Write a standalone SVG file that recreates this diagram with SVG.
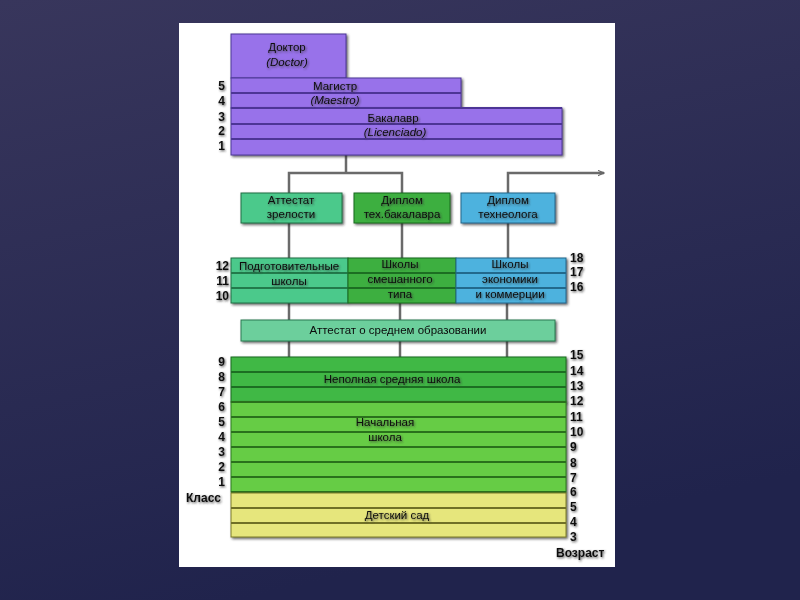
<svg xmlns="http://www.w3.org/2000/svg" width="800" height="600" viewBox="0 0 800 600">
<defs>
<linearGradient id="bg" x1="0" y1="0" x2="0.3" y2="1">
<stop offset="0" stop-color="#38365c"/>
<stop offset="1" stop-color="#20234c"/>
</linearGradient>
<filter id="sh" x="-5%" y="-10%" width="115%" height="130%">
<feDropShadow dx="1.5" dy="1.5" stdDeviation="1" flood-color="#222" flood-opacity="0.7"/>
</filter>
<filter id="tsh" x="-10%" y="-30%" width="130%" height="180%">
<feDropShadow dx="1" dy="1.2" stdDeviation="0.9" flood-color="#333" flood-opacity="0.8"/>
</filter>
<marker id="arr" viewBox="0 0 10 10" refX="9" refY="5" markerWidth="7" markerHeight="7" orient="auto" markerUnits="userSpaceOnUse">
<path d="M0,1 L9,5 L0,9" fill="none" stroke="#666" stroke-width="1.5"/>
</marker>
</defs>
<style>
.t{font-family:"Liberation Sans",Arial,sans-serif;font-size:11.5px;fill:#0a0a0a;text-anchor:middle;filter:url(#tsh)}
.i{font-style:italic}
.n{font-family:"Liberation Sans",Arial,sans-serif;font-size:12px;font-weight:bold;fill:#111;filter:url(#tsh)}
.nl{text-anchor:end}
.nr{text-anchor:start}
.pu{fill:#9872ea;stroke:#4d3696;stroke-width:1}
.pl{stroke:#4d3696;stroke-width:2}
.mint{fill:#4cc98b;stroke:#1f6e44;stroke-width:1}
.mintl{stroke:#237a4c;stroke-width:2}
.gr{fill:#3daf3f;stroke:#1d6a1f;stroke-width:1}
.grl{stroke:#1f6e21;stroke-width:2}
.bl{fill:#4db2de;stroke:#22678a;stroke-width:1}
.bll{stroke:#24698c;stroke-width:2}
.lg{fill:#66cc44;stroke:#2e7a1e;stroke-width:1}
.lgl{stroke:#2b6f1c;stroke-width:2}
.ye{fill:#e6e67c;stroke:#7a7a2a;stroke-width:1}
.yel{stroke:#707028;stroke-width:2}
.c{stroke:#6a6a6a;stroke-width:2.5;fill:none}
</style>
<rect width="800" height="600" fill="url(#bg)"/>
<rect x="179" y="23" width="436" height="544" fill="#ffffff"/>

<g id="connectors">
<path class="c" d="M346,155 V173"/>
<path class="c" d="M289,193 V173 H402 V193"/>
<path class="c" d="M508,193 V173 H604" marker-end="url(#arr)"/>
<path class="c" d="M289,223 V258"/>
<path class="c" d="M402,223 V258"/>
<path class="c" d="M508,223 V258"/>
<path class="c" d="M289,303 V320"/>
<path class="c" d="M400,303 V320"/>
<path class="c" d="M507,303 V320"/>
<path class="c" d="M289,341 V357"/>
<path class="c" d="M400,341 V357"/>
<path class="c" d="M507,341 V357"/>
</g>

<g id="doctor" filter="url(#sh)">
<rect class="pu" x="231" y="34" width="115" height="44"/>
</g>
<g id="magistr" filter="url(#sh)">
<rect class="pu" x="231" y="78" width="230" height="30"/>
<line class="pl" x1="231" y1="93" x2="461" y2="93"/>
</g>
<g id="bakalavr" filter="url(#sh)">
<rect class="pu" x="231" y="108" width="331" height="47"/>
<line class="pl" x1="231" y1="108" x2="562" y2="108"/>
<line class="pl" x1="231" y1="124" x2="562" y2="124"/>
<line class="pl" x1="231" y1="139" x2="562" y2="139"/>
</g>
<g id="purple-text">
<text class="t" x="287" y="51">Доктор</text>
<text class="t i" x="287" y="66">(Doctor)</text>
<text class="t" x="335" y="90">Магистр</text>
<text class="t i" x="335" y="104">(Maestro)</text>
<text class="t" x="393" y="122">Бакалавр</text>
<text class="t i" x="395" y="136">(Licenciado)</text>
<text class="n nl" x="225" y="90">5</text>
<text class="n nl" x="225" y="105">4</text>
<text class="n nl" x="225" y="121">3</text>
<text class="n nl" x="225" y="135">2</text>
<text class="n nl" x="225" y="150">1</text>
</g>

<g id="attestat-zrelosti" filter="url(#sh)">
<rect class="mint" x="241" y="193" width="101" height="30"/>
</g>
<g id="diplom-bakalavra" filter="url(#sh)">
<rect class="gr" x="354" y="193" width="96" height="30"/>
</g>
<g id="diplom-tekhneologa" filter="url(#sh)">
<rect class="bl" x="461" y="193" width="94" height="30"/>
</g>
<g id="diplom-text">
<text class="t" x="291" y="204">Аттестат</text>
<text class="t" x="291" y="218">зрелости</text>
<text class="t" x="402" y="204">Диплом</text>
<text class="t" x="402" y="218">тех.бакалавра</text>
<text class="t" x="508" y="204">Диплом</text>
<text class="t" x="508" y="218">технеолога</text>
</g>

<g id="schools" filter="url(#sh)">
<rect class="mint" x="231" y="258" width="117" height="45"/>
<line class="mintl" x1="231" y1="273" x2="348" y2="273"/>
<line class="mintl" x1="231" y1="288" x2="348" y2="288"/>
<rect class="gr" x="348" y="258" width="108" height="45"/>
<line class="grl" x1="348" y1="273" x2="456" y2="273"/>
<line class="grl" x1="348" y1="288" x2="456" y2="288"/>
<rect class="bl" x="456" y="258" width="110" height="45"/>
<line class="bll" x1="456" y1="273" x2="566" y2="273"/>
<line class="bll" x1="456" y1="288" x2="566" y2="288"/>
</g>
<g id="schools-text">
<text class="t" x="289" y="270">Подготовительные</text>
<text class="t" x="289" y="285">школы</text>
<text class="t" x="400" y="268">Школы</text>
<text class="t" x="400" y="283">смешанного</text>
<text class="t" x="400" y="298">типа</text>
<text class="t" x="510" y="268">Школы</text>
<text class="t" x="510" y="283">экономики</text>
<text class="t" x="510" y="298">и коммерции</text>
<text class="n nl" x="229" y="270">12</text>
<text class="n nl" x="229" y="285">11</text>
<text class="n nl" x="229" y="300">10</text>
<text class="n nr" x="570" y="262">18</text>
<text class="n nr" x="570" y="276">17</text>
<text class="n nr" x="570" y="291">16</text>
</g>

<g id="attestat-srednee" filter="url(#sh)">
<rect x="241" y="320" width="314" height="21" fill="#6ccf9c" stroke="#2a7a52" stroke-width="1"/>
<text class="t" x="398" y="334" style="filter:none">Аттестат о среднем образовании</text>
</g>

<g id="nepolnaya" filter="url(#sh)">
<rect class="gr" x="231" y="357" width="335" height="45" style="fill:#40b844"/>
<line class="grl" x1="231" y1="372" x2="566" y2="372"/>
<line class="grl" x1="231" y1="387" x2="566" y2="387"/>
<line class="grl" x1="231" y1="402" x2="566" y2="402"/>
</g>
<g id="nachalnaya" filter="url(#sh)">
<rect class="lg" x="231" y="402" width="335" height="90"/>
<line class="lgl" x1="231" y1="402" x2="566" y2="402"/>
<line class="lgl" x1="231" y1="417" x2="566" y2="417"/>
<line class="lgl" x1="231" y1="432" x2="566" y2="432"/>
<line class="lgl" x1="231" y1="447" x2="566" y2="447"/>
<line class="lgl" x1="231" y1="462" x2="566" y2="462"/>
<line class="lgl" x1="231" y1="477" x2="566" y2="477"/>
<line class="lgl" x1="231" y1="492" x2="566" y2="492"/>
</g>
<g id="detsad" filter="url(#sh)">
<rect class="ye" x="231" y="493" width="335" height="44"/>
<line class="yel" x1="231" y1="508" x2="566" y2="508"/>
<line class="yel" x1="231" y1="523" x2="566" y2="523"/>
</g>
<g id="school-text">
<text class="t" x="392" y="383">Неполная средняя школа</text>
<text class="t" x="385" y="426">Начальная</text>
<text class="t" x="385" y="441">школа</text>
<text class="t" x="397" y="519">Детский сад</text>
<text class="n nl" x="225" y="366">9</text>
<text class="n nl" x="225" y="381">8</text>
<text class="n nl" x="225" y="396">7</text>
<text class="n nl" x="225" y="411">6</text>
<text class="n nl" x="225" y="426">5</text>
<text class="n nl" x="225" y="441">4</text>
<text class="n nl" x="225" y="456">3</text>
<text class="n nl" x="225" y="471">2</text>
<text class="n nl" x="225" y="486">1</text>
<text class="n nl" x="221" y="502">Класс</text>
<text class="n nr" x="570" y="359">15</text>
<text class="n nr" x="570" y="375">14</text>
<text class="n nr" x="570" y="390">13</text>
<text class="n nr" x="570" y="405">12</text>
<text class="n nr" x="570" y="421">11</text>
<text class="n nr" x="570" y="436">10</text>
<text class="n nr" x="570" y="451">9</text>
<text class="n nr" x="570" y="467">8</text>
<text class="n nr" x="570" y="482">7</text>
<text class="n nr" x="570" y="496">6</text>
<text class="n nr" x="570" y="511">5</text>
<text class="n nr" x="570" y="526">4</text>
<text class="n nr" x="570" y="541">3</text>
<text class="n nr" x="556" y="557">Возраст</text>
</g>
</svg>
